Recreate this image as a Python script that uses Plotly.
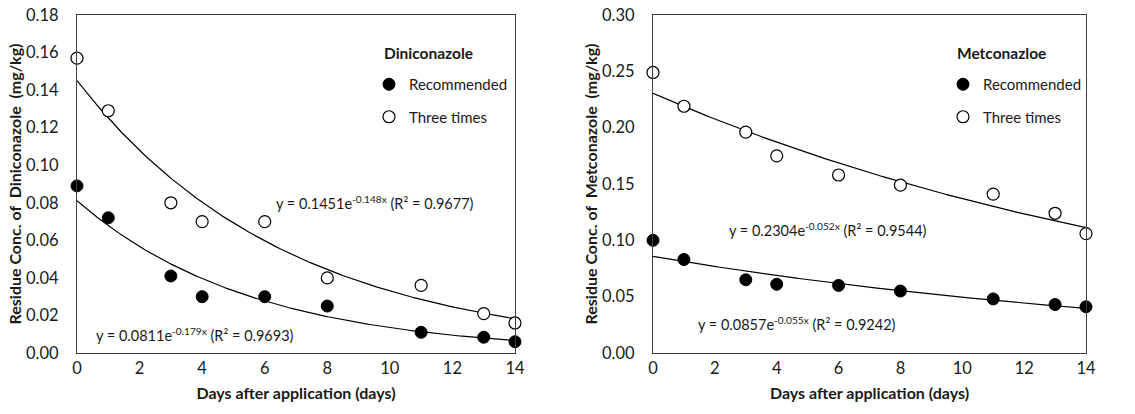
import numpy as np
import plotly.graph_objects as go
from plotly.subplots import make_subplots

days = [0, 1, 3, 4, 6, 8, 11, 13, 14]
din_rec = [0.089, 0.072, 0.041, 0.030, 0.030, 0.025, 0.011, 0.0084, 0.006]
din_three = [0.157, 0.129, 0.080, 0.070, 0.070, 0.040, 0.036, 0.021, 0.016]
met_rec = [0.100, 0.083, 0.065, 0.061, 0.060, 0.055, 0.048, 0.043, 0.041]
met_three = [0.249, 0.219, 0.196, 0.175, 0.158, 0.149, 0.141, 0.124, 0.106]

# fitted trendlines y = a*exp(b*x), with R²
din_rec_fit = (0.0811, -0.179, 0.9693)
din_three_fit = (0.1451, -0.148, 0.9677)
met_rec_fit = (0.0857, -0.055, 0.9242)
met_three_fit = (0.2304, -0.052, 0.9544)

x_ticks = [0, 2, 4, 6, 8, 10, 12, 14]
din_yticks = [0, 0.02, 0.04, 0.06, 0.08, 0.10, 0.12, 0.14, 0.16, 0.18]
met_yticks = [0, 0.05, 0.10, 0.15, 0.20, 0.25, 0.30]

FONT = "Lato"
TXT = "#1a1a1a"
fig = make_subplots(rows=1, cols=2)

xx = np.linspace(0, 14, 200)

def add_panel(col, rec, three, rec_fit, three_fit, legend):
    for a, b, _ in (three_fit, rec_fit):
        fig.add_trace(go.Scatter(x=xx, y=a * np.exp(b * xx), mode="lines",
                                 line=dict(color="black", width=1.2),
                                 showlegend=False, hoverinfo="skip", cliponaxis=False),
                      row=1, col=col)
    fig.add_trace(go.Scatter(x=days, y=rec, mode="markers", name="Recommended",
                             marker=dict(size=12, color="black", line=dict(color="black", width=1)),
                             legend=legend, legendgroup="r" + legend, cliponaxis=False),
                  row=1, col=col)
    fig.add_trace(go.Scatter(x=days, y=three, mode="markers", name="Three times",
                             marker=dict(size=12, color="white", line=dict(color="black", width=1.2)),
                             legend=legend, legendgroup="t" + legend, cliponaxis=False),
                  row=1, col=col)

add_panel(1, din_rec, din_three, din_rec_fit, din_three_fit, "legend")
add_panel(2, met_rec, met_three, met_rec_fit, met_three_fit, "legend2")

def eq(fit):
    a, b, r2 = fit
    return f"y = {a:.4f}e<sup>{b:.3f}x</sup> (R² = {r2:.4f})"

axis_common = dict(showline=True, mirror=True, linecolor="#404040", linewidth=1.2,
                   showgrid=False, zeroline=False, ticks="", automargin=False,
                   tickfont=dict(family=FONT, size=16.5, color=TXT))

fig.update_xaxes(**axis_common, range=[0, 14], tickvals=x_ticks, ticklabelstandoff=0,
                 title=dict(text="<b>Days after application (days)</b>",
                            font=dict(family=FONT, size=16, color=TXT), standoff=10))
fig.update_xaxes(domain=[77/1135, 515/1135], row=1, col=1)
fig.update_xaxes(domain=[653/1135, 1086/1135], row=1, col=2)

fig.update_yaxes(**axis_common, ticklabelstandoff=14)
fig.update_yaxes(domain=[1-353/414, 1-15/414])
fig.update_yaxes(range=[0, 0.18], tickvals=din_yticks, tickformat=".2f",
                 title=dict(text="<b>Residue Conc. of  Diniconazole  (mg/kg)</b>",
                            font=dict(family=FONT, size=16, color=TXT), standoff=0),
                 row=1, col=1)
fig.update_yaxes(range=[0, 0.30], tickvals=met_yticks, tickformat=".2f",
                 title=dict(text="<b>Residue Conc. of  Metconazole  (mg/kg)</b>",
                            font=dict(family=FONT, size=16, color=TXT), standoff=0),
                 row=1, col=2)

ann_font = dict(family=FONT, size=14.5, color=TXT)
fig.add_annotation(x=9.52, y=0.0799, xref="x", yref="y", text=eq(din_three_fit),
                   showarrow=False, font=ann_font)
fig.add_annotation(x=3.77, y=0.0096, xref="x", yref="y", text=eq(din_rec_fit),
                   showarrow=False, font=ann_font)
fig.add_annotation(x=5.67, y=0.110, xref="x2", yref="y2", text=eq(met_three_fit),
                   showarrow=False, font=ann_font)
fig.add_annotation(x=4.64, y=0.0266, xref="x2", yref="y2", text=eq(met_rec_fit),
                   showarrow=False, font=ann_font)

# legend headings
for xp, name in ((382, "Diniconazole"), (955, "Metconazloe")):
    fig.add_annotation(x=xp/1135, y=1-53/414, xref="paper", yref="paper",
                       xanchor="left", yanchor="middle", showarrow=False,
                       text=f"<b>{name}</b>", font=dict(family=FONT, size=15.5, color=TXT))

leg_common = dict(bgcolor="rgba(0,0,0,0)", font=dict(family=FONT, size=15, color=TXT),
                  tracegroupgap=10, itemwidth=30, xanchor="left", yanchor="top")
fig.update_layout(
    width=1135, height=414, margin=dict(l=0, r=0, t=0, b=0, autoexpand=False),
    plot_bgcolor="white", paper_bgcolor="white",
    legend=dict(**leg_common, x=369/1135, y=1-68/414),
    legend2=dict(**leg_common, x=943/1135, y=1-68/414),
)

fig.write_html("out.html")
